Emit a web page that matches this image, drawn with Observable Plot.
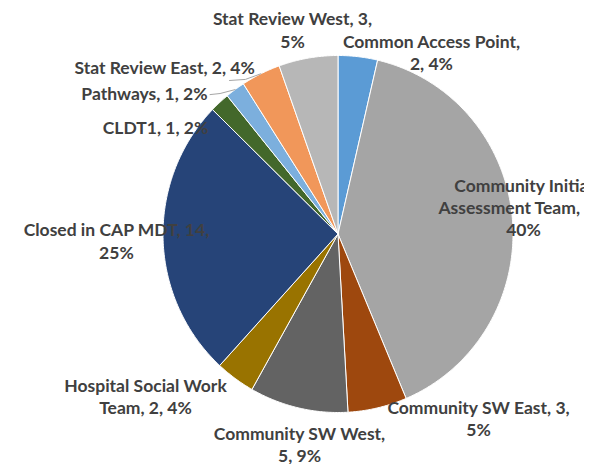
<!DOCTYPE html>
<html><head><meta charset="utf-8">
<script src="https://cdn.jsdelivr.net/npm/d3@7"></script>
<script src="https://cdn.jsdelivr.net/npm/@observablehq/plot@0.6"></script>
<style>body{margin:0;background:#fff}</style>
</head><body><div id="chart"></div>
<script>
// ---- data ----
const categories = ["Common Access Point","Community Initial Assessment Team","Community SW East","Community SW West","Hospital Social Work Team","Closed in CAP MDT","CLDT1","Pathways","Stat Review East","Stat Review West"];
const values = [2,22,3,5,2,14,1,1,2,3];
const percents = ["4%","40%","5%","9%","4%","25%","2%","2%","4%","5%"];
const colors = ["#5B9BD5","#A5A5A5","#9E480E","#636363","#997300","#264478","#43682B","#7CAFDD","#F1975A","#B7B7B7"];

// ---- label layout (line wrap widths, centres in pie-radius units) ----
const wrapWidth = [20,22,22,20,20,22,24,24,24,21];
const labelX = [0.534,1.06,0.803,-0.22,-1.10,-1.266,-1.043,-1.106,-0.991,-0.26];
const labelY = [1.022,0.154,-1.028,-1.175,-0.905,-0.036,0.597,0.793,0.938,1.146];
const leaderFor = {7:[[-0.731,0.781],[-0.674,0.787]], 8:[[-0.620,0.86],[-0.529,0.866]]};

const W = 596, H = 464, CX = 337.5, CY = 233.5, RX = 175, RY = 178.5, MR = 12;
const total = d3.sum(values);

function wrap(text, n) {
  const words = text.split(" "); const lines = []; let cur = "";
  for (const w of words) {
    if (cur && (cur + " " + w).length > n) { lines.push(cur); cur = w; }
    else cur = cur ? cur + " " + w : w;
  }
  lines.push(cur); return lines.join("\n");
}

let acc = 0;
const slices = categories.map((name, i) => {
  const a0 = acc / total * 2 * Math.PI; acc += values[i];
  const a1 = acc / total * 2 * Math.PI;
  return {name, i, a0, a1, mid: (a0 + a1) / 2};
});
const polyPts = [];
for (const s of slices) {
  polyPts.push({name: s.name, x: 0, y: 0});
  const n = Math.max(2, Math.ceil((s.a1 - s.a0) / (Math.PI / 360)));
  for (let k = 0; k <= n; k++) {
    const a = s.a0 + (s.a1 - s.a0) * k / n;
    polyPts.push({name: s.name, x: Math.sin(a), y: Math.cos(a)});
  }
  polyPts.push({name: s.name, x: 0, y: 0});
}
const labels = slices.map(s => ({
  text: wrap(`${s.name}, ${values[s.i]}, ${percents[s.i]}`, wrapWidth[s.i]),
  x: labelX[s.i], y: labelY[s.i]
}));
const leaders = [];
for (const k in leaderFor) {
  const s = slices[k];
  for (const p of leaderFor[k]) leaders.push({k, x: p[0], y: p[1]});
  leaders.push({k, x: Math.sin(s.mid), y: Math.cos(s.mid)});
}

const chart = Plot.plot({
  width: W, height: H,
  marginLeft: 0, marginRight: MR, marginTop: 0, marginBottom: 0,
  x: {domain: [-CX / RX, (W - MR - CX) / RX], axis: null},
  y: {domain: [-(H - CY) / RY, CY / RY], axis: null},
  color: {domain: categories, range: colors},
  style: {fontFamily: "Lato, 'Liberation Sans', sans-serif", background: "#fff"},
  marks: [
    Plot.line(polyPts, {x: "x", y: "y", z: "name", fill: "name", stroke: "#fff", strokeWidth: 1, strokeLinejoin: "round", curve: "linear"}),
    Plot.line(leaders, {x: "x", y: "y", z: "k", stroke: "#A6A6A6", strokeWidth: 1}),
    Plot.text(labels, {x: "x", y: "y", text: "text", fill: "#404040", fontSize: 17.5, fontWeight: "bold", lineHeight: 1.26, lineAnchor: "middle", textAnchor: "middle", clip: true})
  ]
});
document.getElementById("chart").append(chart);
</script>
</body></html>
